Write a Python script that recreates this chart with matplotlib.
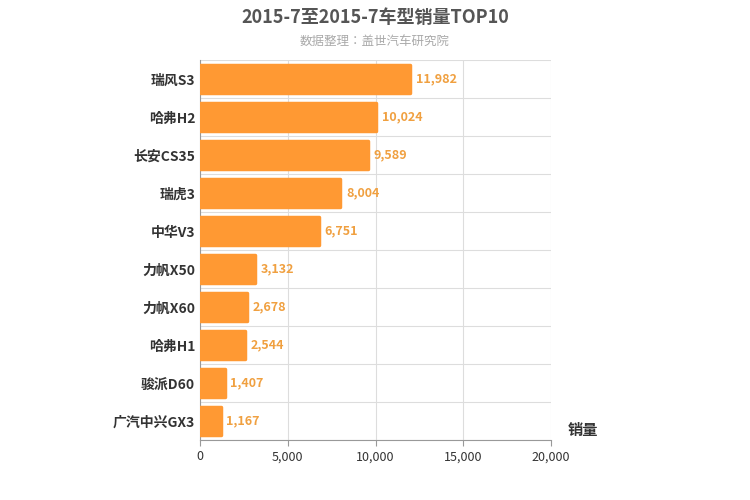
import matplotlib
matplotlib.use("Agg")
import matplotlib.pyplot as plt
from matplotlib import font_manager as fm

# register a CJK font file explicitly in case the family name isn't indexed
cjk = None
for f in fm.findSystemFonts():
    if "NotoSansCJK" in f.replace(" ", "") or "NotoSansSC" in f:
        try:
            fm.fontManager.addfont(f)
            cjk = fm.FontProperties(fname=f).get_name()
            if "SC" in cjk or "CJK" in cjk:
                break
        except Exception:
            pass
plt.rcParams["font.family"] = [cjk or "Noto Sans CJK SC", "DejaVu Sans"]

models = ["瑞风S3", "哈弗H2", "长安CS35", "瑞虎3", "中华V3",
          "力帆X50", "力帆X60", "哈弗H1", "骏派D60", "广汽中兴GX3"]
sales = [11982, 10024, 9589, 8004, 6751, 3132, 2678, 2544, 1407, 1167]

color = "#FF9933"

fig = plt.figure(figsize=(7.5, 5), dpi=100)
ax = fig.add_axes([0.2667, 0.12, 0.468, 0.76])

y = list(range(len(models)))[::-1]
ax.barh(y, sales, height=0.74, color=color, edgecolor=color,
        linewidth=2.5, joinstyle="round", zorder=3)
for yi, v in zip(y, sales):
    ax.text(v + 320, yi, f"{v:,}", va="center", ha="left",
            color="#F0A040", fontsize=9, fontweight="bold")

ax.set_xlim(0, 20000)
ax.set_ylim(-0.5, len(models) - 0.5)
ax.set_yticks(y)
ax.set_yticklabels(models, fontsize=10, color="#333333", fontweight="bold")
ax.set_xticks([0, 5000, 10000, 15000, 20000])
ax.set_xticklabels(["0", "5,000", "10,000", "15,000", "20,000"], fontsize=9, color="#333333")
ax.set_yticks([i - 0.5 for i in range(len(models) + 1)], minor=True)
ax.grid(True, axis="x", color="#dddddd", zorder=0)
ax.grid(True, axis="y", which="minor", color="#dddddd", zorder=0)
ax.tick_params(axis="y", which="both", length=0)
ax.tick_params(axis="x", length=4, color="#999999")
for s in ["top", "right"]:
    ax.spines[s].set_visible(False)
ax.spines["left"].set_color("#999999")
ax.spines["bottom"].set_color("#999999")

ax.text(1.09, 0.005, "销量", transform=ax.transAxes, fontsize=11,
        fontweight="bold", color="#333333", ha="center", va="bottom")

fig.text(0.5, 0.965, "2015-7至2015-7车型销量TOP10", ha="center", va="center",
         fontsize=13, fontweight="bold", color="#555555")
fig.text(0.5, 0.918, "数据整理：盖世汽车研究院", ha="center", va="center",
         fontsize=9, color="#aaaaaa")

fig.savefig("out.png", dpi=100)
